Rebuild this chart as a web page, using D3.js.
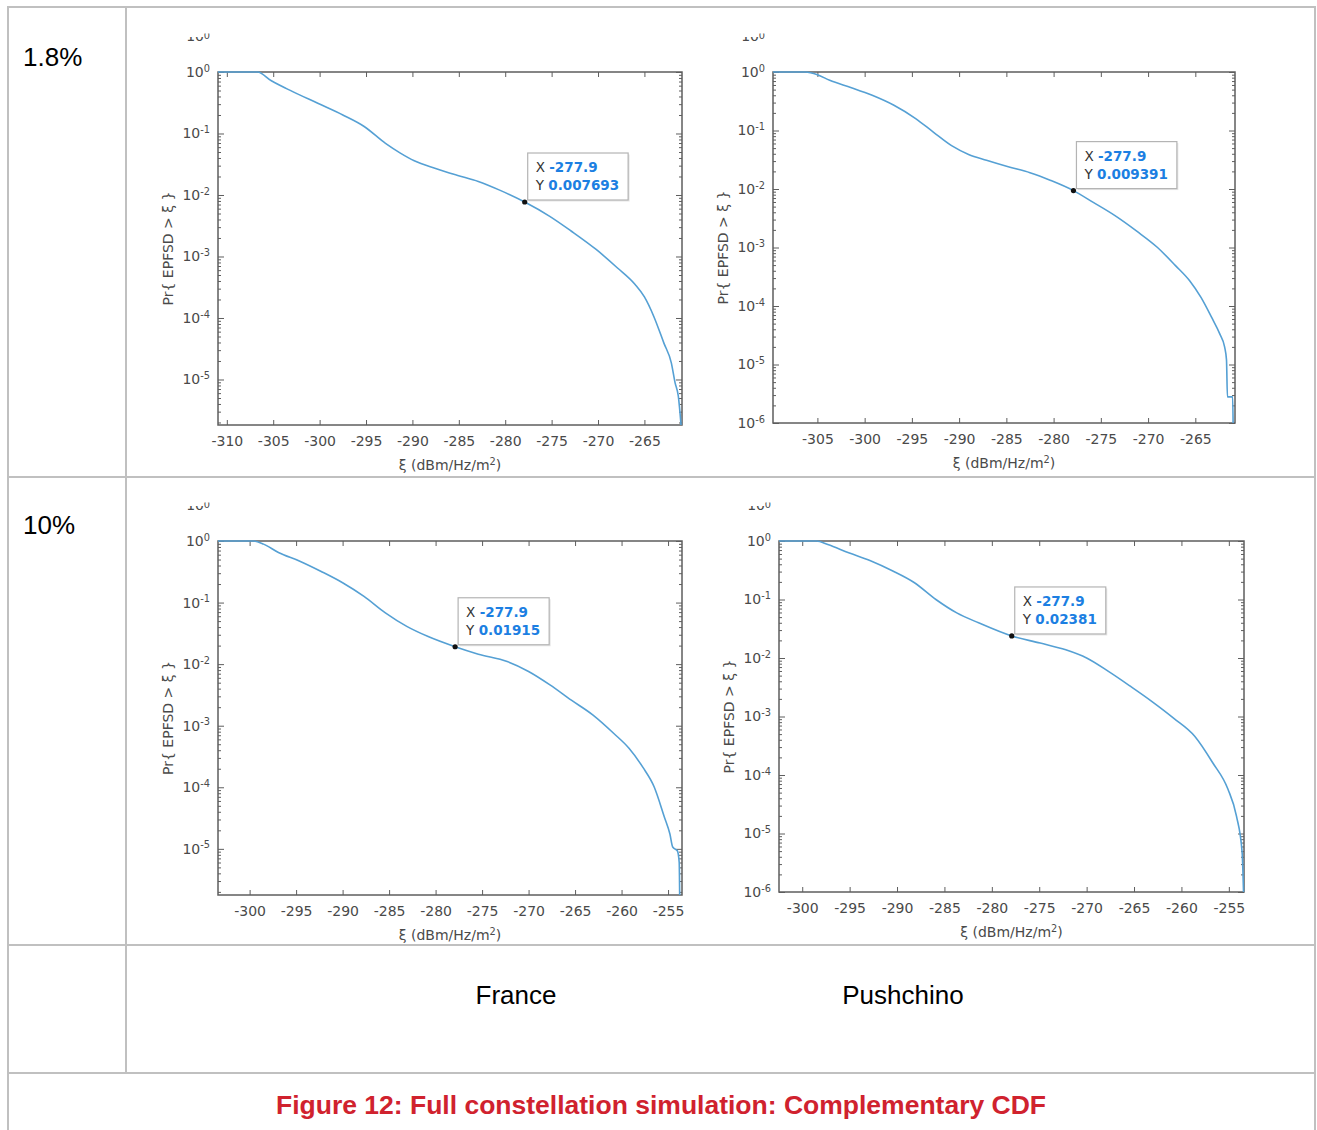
<!DOCTYPE html>
<html><head><meta charset="utf-8">
<script src="https://cdn.jsdelivr.net/npm/d3@7"></script>
<style>body{margin:0;background:#fff} svg{display:block}</style>
</head><body>
<svg id="c" width="1317" height="1130"></svg>
<script>
// ---------------- data ----------------
const rowLabels = ["1.8%", "10%"];
const colLabels = ["France", "Pushchino"];
const captionText = "Figure 12: Full constellation simulation: Complementary CDF";

// 1.8% - France
const franceLowX = [-310.95, -306.7, -305.2, -302.9, -300.2, -297.5, -295.2, -292.9, -291.3, -289.8, -287.5, -285.2, -282.9, -280.6, -277.9, -275.2, -272.9, -270.2, -267.9, -266.0, -265.0, -264.0, -262.9, -262.1, -261.7, -261.35, -261.05];
const franceLowY = [1, 1, 0.72, 0.48, 0.31, 0.20, 0.13, 0.069, 0.048, 0.036, 0.027, 0.021, 0.0166, 0.012, 0.007693, 0.0045, 0.0026, 0.0013, 0.00065, 0.00035, 0.00022, 0.000107, 0.000039, 0.0000186, 0.0000089, 0.0000054, 0.0000018];
// 1.8% - Pushchino
const pushLowX = [-309.7, -306.3, -305.0, -303.7, -301.4, -299.2, -296.9, -294.6, -292.7, -290.8, -289.0, -287.1, -284.8, -282.5, -280.3, -277.9, -275.8, -273.5, -271.2, -269.0, -267.1, -265.6, -264.4, -263.3, -262.4, -261.9, -261.7, -261.6, -261.05, -261.0];
const pushLowY = [1, 1, 0.9, 0.72, 0.54, 0.40, 0.27, 0.16, 0.093, 0.055, 0.039, 0.031, 0.024, 0.019, 0.014, 0.009391, 0.0059, 0.0035, 0.0019, 0.001, 0.00049, 0.00027, 0.00014, 0.000065, 0.000033, 0.00002, 0.000012, 0.0000028, 0.0000028, 0.000001];
// 10% - France
const franceHighX = [-303.4, -299.6, -298.5, -296.9, -294.6, -292.3, -290.0, -287.7, -285.4, -283.1, -280.8, -277.9, -275.4, -272.3, -270.0, -267.7, -265.4, -263.1, -260.8, -259.2, -257.7, -256.5, -255.4, -254.8, -254.5, -254.0, -253.8, -253.75];
const franceHighY = [1, 1, 0.89, 0.65, 0.47, 0.32, 0.21, 0.126, 0.068, 0.041, 0.028, 0.01915, 0.0145, 0.011, 0.0076, 0.0046, 0.0026, 0.0015, 0.00074, 0.00043, 0.00021, 0.000102, 0.000033, 0.0000174, 0.0000107, 0.0000093, 0.000006, 0.0000017];
// 10% - Pushchino
const pushHighX = [-302.45, -298.5, -297.3, -295.1, -292.8, -290.5, -288.2, -285.9, -283.7, -281.4, -277.9, -274.9, -272.2, -270.0, -267.7, -265.4, -263.1, -260.8, -258.6, -256.7, -255.1, -254.2, -253.6, -253.45];
const pushHighY = [1, 1, 0.87, 0.63, 0.46, 0.31, 0.195, 0.1, 0.059, 0.04, 0.02381, 0.018, 0.0138, 0.01, 0.0059, 0.0033, 0.0018, 0.00093, 0.00046, 0.000162, 0.0000575, 0.00002, 0.0000048, 0.000001];

const tipXs = [-277.9, -277.9, -277.9, -277.9];
const tipYs = [0.007693, 0.009391, 0.01915, 0.02381];
const tipXLabels = ["-277.9", "-277.9", "-277.9", "-277.9"];
const tipYLabels = ["0.007693", "0.009391", "0.01915", "0.02381"];

const xTicksFranceLow = [-310, -305, -300, -295, -290, -285, -280, -275, -270, -265];
const xTicksPushLow = [-305, -300, -295, -290, -285, -280, -275, -270, -265];
const xTicksHigh = [-300, -295, -290, -285, -280, -275, -270, -265, -260, -255];
const yTicks5 = [1, 1e-1, 1e-2, 1e-3, 1e-4, 1e-5];
const yTicks6 = [1, 1e-1, 1e-2, 1e-3, 1e-4, 1e-5, 1e-6];

const xDomains = [[-310.95, -260.95], [-309.7, -260.8], [-303.4, -253.5], [-302.45, -253.4]];
const yDomainMins = [1.82e-6, 1e-6, 1.78e-6, 1e-6];

const yLabel = "Pr{ EPFSD > \u03BE }";

// ---------------- layout ----------------
const svg = d3.select("#c");
const defs = svg.append("defs");
const FONT = "DejaVu Sans";
const SANS = "Liberation Sans, Arial, sans-serif";
const gridColor = "#c0c0c0";
const axisColor = "#5e5e5e";
const tickText = "#4a4a4a";
const lineColor = "#55a0d4";

// table
const tbl = svg.append("g").attr("stroke", gridColor).attr("stroke-width", 2);
[7, 477, 945, 1073].forEach(yy => tbl.append("line").attr("x1", 8).attr("x2", 1315).attr("y1", yy).attr("y2", yy));
tbl.append("line").attr("x1", 8).attr("x2", 8).attr("y1", 6).attr("y2", 1130);
tbl.append("line").attr("x1", 1315).attr("x2", 1315).attr("y1", 6).attr("y2", 1130);
tbl.append("line").attr("x1", 126).attr("x2", 126).attr("y1", 7).attr("y2", 1073);

svg.selectAll("text.row").data(rowLabels).join("text").attr("class", "row")
  .attr("x", 23).attr("y", (d, i) => [66, 534][i])
  .attr("font-family", SANS).attr("font-size", 26).attr("fill", "#000").text(d => d);
svg.selectAll("text.col").data(colLabels).join("text").attr("class", "col")
  .attr("x", (d, i) => [516, 903][i]).attr("y", 1004).attr("text-anchor", "middle")
  .attr("font-family", SANS).attr("font-size", 26).attr("fill", "#000").text(d => d);
svg.append("text").attr("x", 661).attr("y", 1114).attr("text-anchor", "middle")
  .attr("font-family", SANS).attr("font-weight", "bold").attr("font-size", 26.5)
  .attr("fill", "#d0222e").text(captionText);

const panels = [
  {box: {left: 218, right: 682, top: 72, bottom: 425}, xs: franceLowX, ys: franceLowY, xt: xTicksFranceLow, yt: yTicks5},
  {box: {left: 773, right: 1235, top: 72, bottom: 423}, xs: pushLowX, ys: pushLowY, xt: xTicksPushLow, yt: yTicks6},
  {box: {left: 218, right: 682, top: 541, bottom: 895}, xs: franceHighX, ys: franceHighY, xt: xTicksHigh, yt: yTicks5},
  {box: {left: 779, right: 1244, top: 541, bottom: 892}, xs: pushHighX, ys: pushHighY, xt: xTicksHigh, yt: yTicks6}
];

function supLabel(sel, expOf) {
  sel.each(function(d) {
    const t = d3.select(this);
    t.text(null);
    t.append("tspan").text("10");
    t.append("tspan").attr("dy", "-0.55em").attr("font-size", "0.7em").text(expOf(d));
  });
}

panels.forEach((p, i) => {
  const b = p.box;
  const x = d3.scaleLinear().domain(xDomains[i]).range([b.left, b.right]);
  const y = d3.scaleLog().domain([yDomainMins[i], 1]).range([b.bottom, b.top]);
  const g = svg.append("g");
  const lo = Math.floor(Math.log10(yDomainMins[i]));
  const minors = [];
  for (let k = lo; k < 0; k++) for (let m = 2; m <= 9; m++) {
    const v = m * Math.pow(10, k);
    if (v > yDomainMins[i] && v < 1) minors.push(v);
  }
  const fmtX = d => String(d);
  const expOf = d => String(Math.round(Math.log10(d)));

  const ax = g.append("g").attr("transform", `translate(0,${b.bottom})`)
    .call(d3.axisBottom(x).tickValues(p.xt).tickSize(-5).tickSizeOuter(0).tickPadding(11).tickFormat(fmtX));
  const axTop = g.append("g").attr("transform", `translate(0,${b.top})`)
    .call(d3.axisTop(x).tickValues(p.xt).tickSize(-5).tickSizeOuter(0).tickFormat(""));
  const ay = g.append("g").attr("transform", `translate(${b.left},0)`)
    .call(d3.axisLeft(y).tickValues(p.yt).tickSize(-6).tickSizeOuter(0).tickPadding(8));
  const ayMin = g.append("g").attr("transform", `translate(${b.left},0)`)
    .call(d3.axisLeft(y).tickValues(minors).tickSize(-3).tickSizeOuter(0).tickFormat(""));
  const ayR = g.append("g").attr("transform", `translate(${b.right},0)`)
    .call(d3.axisRight(y).tickValues(p.yt).tickSize(-6).tickSizeOuter(0).tickFormat(""));
  const ayRMin = g.append("g").attr("transform", `translate(${b.right},0)`)
    .call(d3.axisRight(y).tickValues(minors).tickSize(-3).tickSizeOuter(0).tickFormat(""));
  [ax, axTop, ay, ayMin, ayR, ayRMin].forEach(a => {
    a.select(".domain").remove();
    a.selectAll(".tick line").attr("stroke", axisColor).attr("stroke-width", 1);
    a.selectAll("text").attr("font-family", FONT).attr("font-size", 14).attr("fill", tickText);
  });
  ay.selectAll(".tick text").call(supLabel, expOf);

  g.append("rect").attr("x", b.left).attr("y", b.top).attr("width", b.right - b.left).attr("height", b.bottom - b.top)
    .attr("fill", "none").attr("stroke", axisColor).attr("stroke-width", 1.5);

  // clipped remnant of a 10^0 label above the plot (screenshot crop artefact)
  const cid1 = "rem10_" + i, cid2 = "remsup_" + i;
  defs.append("clipPath").attr("id", cid1).append("rect").attr("x", b.left - 60).attr("y", b.top - 35).attr("width", 60).attr("height", 4);
  defs.append("clipPath").attr("id", cid2).append("rect").attr("x", b.left - 60).attr("y", b.top - 38.5).attr("width", 60).attr("height", 6);
  g.append("text").attr("x", b.left - 14).attr("y", b.top - 31.5).attr("text-anchor", "end")
    .attr("font-family", FONT).attr("font-size", 14).attr("fill", tickText).attr("clip-path", `url(#${cid1})`).text("10");
  g.append("text").attr("x", b.left - 8).attr("y", b.top - 33.3).attr("text-anchor", "end")
    .attr("font-family", FONT).attr("font-size", 9.8).attr("fill", tickText).attr("clip-path", `url(#${cid2})`).text("0");

  const xl = g.append("text").attr("x", (b.left + b.right) / 2).attr("y", b.bottom + 45).attr("text-anchor", "middle")
    .attr("font-family", FONT).attr("font-size", 14).attr("fill", tickText);
  xl.append("tspan").text("\u03BE (dBm/Hz/m");
  xl.append("tspan").attr("dy", "-0.5em").attr("font-size", "0.7em").text("2");
  xl.append("tspan").attr("dy", "0.35em").text(")");
  g.append("text").attr("transform", `translate(${b.left - 45},${(b.top + b.bottom) / 2}) rotate(-90)`)
    .attr("text-anchor", "middle").attr("font-family", FONT).attr("font-size", 14).attr("fill", tickText).text(yLabel);

  const cid = "clip_" + i;
  defs.append("clipPath").attr("id", cid).append("rect").attr("x", b.left).attr("y", b.top - 1)
    .attr("width", b.right - b.left + 1).attr("height", b.bottom - b.top + 1);
  const pts = p.xs.map((v, k) => [v, p.ys[k]]);
  g.append("path").datum(pts).attr("clip-path", `url(#${cid})`)
    .attr("fill", "none").attr("stroke", lineColor).attr("stroke-width", 1.6).attr("stroke-linejoin", "round")
    .attr("d", d3.line().x(d => x(d[0])).y(d => y(d[1])).curve(d3.curveMonotoneX));

  // datatip
  const px = x(tipXs[i]), py = y(tipYs[i]);
  const tg = g.append("g");
  const bx = px + 3, by = py - 2 - 47;
  tg.append("rect").attr("x", bx + 1.5).attr("y", by + 1.5).attr("height", 47).attr("width", 10)
    .attr("class", "shadow").attr("fill", "#e6e6e6");
  const rect = tg.append("rect").attr("x", bx).attr("y", by).attr("height", 47)
    .attr("fill", "#fff").attr("stroke", "#b4b4b4").attr("stroke-width", 1.2);
  const t1 = tg.append("text").attr("x", bx + 8).attr("y", by + 19).attr("font-family", FONT).attr("font-size", 13.5);
  t1.append("tspan").attr("fill", "#333").text("X ");
  t1.append("tspan").attr("fill", "#1c7fe2").attr("font-weight", "bold").text(tipXLabels[i]);
  const t2 = tg.append("text").attr("x", bx + 8).attr("y", by + 37).attr("font-family", FONT).attr("font-size", 13.5);
  t2.append("tspan").attr("fill", "#333").text("Y ");
  t2.append("tspan").attr("fill", "#1c7fe2").attr("font-weight", "bold").text(tipYLabels[i]);
  const w = Math.max(t1.node().getComputedTextLength(), t2.node().getComputedTextLength()) + 17;
  rect.attr("width", w);
  tg.select(".shadow").attr("width", w);
  tg.append("circle").attr("cx", px).attr("cy", py).attr("r", 2.6).attr("fill", "#111");
});
</script>
</body></html>
